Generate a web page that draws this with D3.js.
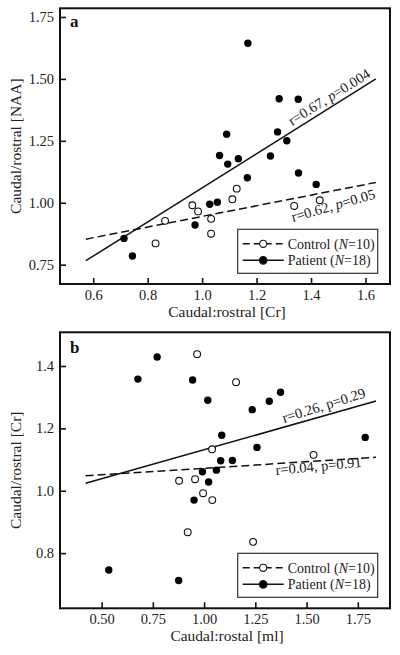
<!DOCTYPE html>
<html>
<head>
<meta charset="utf-8">
<script src="https://cdn.jsdelivr.net/npm/d3@7"></script>
<style>
  html, body { margin: 0; padding: 0; background: #fff; }
  svg { display: block; }
</style>
</head>
<body>
<svg id="chart" width="400" height="655"></svg>
<script>
// ---------- Panel a data ----------
const aPatientX = [1.168, 1.283, 1.353, 1.090, 1.277, 1.311, 1.064, 1.133, 1.251, 1.094, 1.354, 1.166, 1.419, 1.028, 1.056, 0.974, 0.713, 0.744];
const aPatientY = [1.644, 1.420, 1.418, 1.277, 1.286, 1.250, 1.191, 1.178, 1.189, 1.156, 1.120, 1.101, 1.074, 0.994, 1.002, 0.910, 0.856, 0.785];
const aControlX = [1.127, 1.111, 0.964, 0.985, 1.033, 0.864, 1.033, 0.829, 1.338, 1.432];
const aControlY = [1.057, 1.014, 0.990, 0.965, 0.935, 0.927, 0.875, 0.836, 0.987, 1.010];
const aPatientFitX = [0.573, 1.638];
const aPatientFitY = [0.766, 1.500];
const aControlFitX = [0.573, 1.638];
const aControlFitY = [0.853, 1.082];
const aXTicks = [0.6, 0.8, 1.0, 1.2, 1.4, 1.6];
const aYTicks = [0.75, 1.00, 1.25, 1.50, 1.75];

// ---------- Panel b data ----------
const bPatientX = [0.771, 0.677, 0.944, 1.018, 1.373, 1.318, 1.235, 1.086, 1.786, 1.258, 1.081, 1.138, 1.060, 0.992, 1.022, 0.951, 0.535, 0.876];
const bPatientY = [1.429, 1.358, 1.355, 1.290, 1.316, 1.287, 1.260, 1.178, 1.171, 1.139, 1.096, 1.097, 1.066, 1.061, 1.028, 0.970, 0.746, 0.712];
const bControlX = [0.966, 1.156, 1.039, 1.534, 0.878, 0.956, 0.995, 1.040, 0.920, 1.239];
const bControlY = [1.438, 1.348, 1.133, 1.115, 1.032, 1.037, 0.992, 0.970, 0.867, 0.836];
const bPatientFitX = [0.422, 1.839];
const bPatientFitY = [1.024, 1.2875];
const bControlFitX = [0.422, 1.839];
const bControlFitY = [1.048, 1.107];
const bXTicks = [0.50, 0.75, 1.00, 1.25, 1.50, 1.75];
const bYTicks = [0.8, 1.0, 1.2, 1.4];

const legendLabels = ["Control", "Patient"];
const legendN = ["10", "18"];

const FONT = '"Liberation Serif", "Times New Roman", Times, serif';
const svg = d3.select("#chart").attr("font-family", FONT);

function txt(sel) {
  return sel.style("font-family", FONT);
}

function drawPanel(cfg) {
  const g = svg.append("g");
  const x = d3.scaleLinear().domain(cfg.xDomain).range([cfg.left, cfg.right]);
  const y = d3.scaleLinear().domain(cfg.yDomain).range([cfg.bottom, cfg.top]);

  const xAxis = d3.axisBottom(x).tickValues(cfg.xTicks).tickFormat(d3.format(cfg.xFmt))
    .tickSizeInner(-6).tickSizeOuter(0).tickPadding(cfg.xPad);
  const yAxis = d3.axisLeft(y).tickValues(cfg.yTicks).tickFormat(d3.format(cfg.yFmt))
    .tickSizeInner(-6).tickSizeOuter(0).tickPadding(6);

  const gx = g.append("g").attr("transform", `translate(0,${cfg.bottom})`).call(xAxis);
  const gy = g.append("g").attr("transform", `translate(${cfg.left},0)`).call(yAxis);
  [gx, gy].forEach(a => {
    a.attr("font-family", FONT);
    a.select(".domain").remove();
    a.selectAll("line").attr("stroke", "#111").attr("stroke-width", 1.6);
    txt(a.selectAll("text")).style("font-size", "14.5px").attr("fill", "#222");
  });

  g.append("rect").attr("x", cfg.left).attr("y", cfg.top)
    .attr("width", cfg.right - cfg.left).attr("height", cfg.bottom - cfg.top)
    .attr("fill", "none").attr("stroke", "#111").attr("stroke-width", 2);

  txt(g.append("text")).attr("x", cfg.left + 10).attr("y", cfg.top + cfg.letterDy)
    .style("font-size", "17px").style("font-weight", "bold").attr("fill", "#111").text(cfg.letter);

  txt(g.append("text")).attr("x", (cfg.left + cfg.right) / 2 + 2).attr("y", cfg.xTitleY)
    .attr("text-anchor", "middle").style("font-size", "15.5px").attr("fill", "#222").text(cfg.xTitle);
  txt(g.append("text"))
    .attr("transform", `translate(21,${(cfg.top + cfg.bottom) / 2}) rotate(-90)`)
    .attr("text-anchor", "middle").style("font-size", "15.5px").attr("fill", "#222").text(cfg.yTitle);

  const line = d3.line().x(d => x(d[0])).y(d => y(d[1]));
  g.append("path").datum(d3.zip(cfg.cFitX, cfg.cFitY)).attr("d", line)
    .attr("fill", "none").attr("stroke", "#111").attr("stroke-width", 1.5).attr("stroke-dasharray", "8,4");
  g.append("path").datum(d3.zip(cfg.pFitX, cfg.pFitY)).attr("d", line)
    .attr("fill", "none").attr("stroke", "#111").attr("stroke-width", 1.5);

  g.selectAll(".ctrl").data(d3.zip(cfg.cX, cfg.cY)).join("circle")
    .attr("cx", d => x(d[0])).attr("cy", d => y(d[1])).attr("r", 3.4)
    .attr("fill", "#fff").attr("stroke", "#111").attr("stroke-width", 1.1);
  g.selectAll(".pat").data(d3.zip(cfg.pX, cfg.pY)).join("circle")
    .attr("cx", d => x(d[0])).attr("cy", d => y(d[1])).attr("r", 3.7)
    .attr("fill", "#000");

  cfg.annots.forEach(an => {
    const t = txt(g.append("text"))
      .attr("transform", `translate(${an.x},${an.y}) rotate(${an.angle})`)
      .style("font-size", "14.5px").attr("fill", "#222");
    t.append("tspan").text(`r=${an.r}, `);
    t.append("tspan").style("font-style", an.italicP ? "italic" : "normal").text("p");
    t.append("tspan").text(`=${an.p}`);
  });

  const lg = g.append("g");
  lg.append("rect").attr("x", cfg.legX).attr("y", cfg.legY).attr("width", 140).attr("height", 44)
    .attr("fill", "#fff").attr("stroke", "#333").attr("stroke-width", 1.2);
  legendLabels.forEach((lab, i) => {
    const ry = cfg.legY + 14.5 + i * 16.5;
    const l = lg.append("line").attr("x1", cfg.legX + 5).attr("x2", cfg.legX + 46)
      .attr("y1", ry).attr("y2", ry).attr("stroke", "#111").attr("stroke-width", 1.5);
    if (i === 0) l.attr("stroke-dasharray", "7,4");
    lg.append("circle").attr("cx", cfg.legX + 25.5).attr("cy", ry).attr("r", i === 0 ? 3.6 : 3.8)
      .attr("fill", i === 0 ? "#fff" : "#000").attr("stroke", "#111").attr("stroke-width", 1.1);
    const t = txt(lg.append("text")).attr("x", cfg.legX + 50).attr("y", ry + 5)
      .style("font-size", "14px").attr("fill", "#222");
    t.append("tspan").text(`${lab} (`);
    t.append("tspan").style("font-style", "italic").text("N");
    t.append("tspan").text(`=${legendN[i]})`);
  });
}

drawPanel({
  left: 60, right: 390, top: 8.3, bottom: 284,
  xDomain: [0.478, 1.690], yDomain: [0.672, 1.785],
  xTicks: aXTicks, yTicks: aYTicks, xFmt: ".1f", yFmt: ".2f", xPad: 5.5,
  letter: "a", letterDy: 18.5,
  xTitle: "Caudal:rostral [Cr]", xTitleY: 317,
  yTitle: "Caudal/rostral [NAA]",
  pX: aPatientX, pY: aPatientY, cX: aControlX, cY: aControlY,
  pFitX: aPatientFitX, pFitY: aPatientFitY, cFitX: aControlFitX, cFitY: aControlFitY,
  annots: [
    { x: 292, y: 126, angle: -32, r: "0.67", p: "0.004", italicP: true },
    { x: 293, y: 222, angle: -16, r: "0.62", p: "0.05", italicP: true }
  ],
  legX: 237.7, legY: 229.3
});

drawPanel({
  left: 60, right: 390, top: 332.3, bottom: 608.3,
  xDomain: [0.297, 1.907], yDomain: [0.623, 1.508],
  xTicks: bXTicks, yTicks: bYTicks, xFmt: ".2f", yFmt: ".1f", xPad: 5,
  letter: "b", letterDy: 21,
  xTitle: "Caudal:rostal [ml]", xTitleY: 641,
  yTitle: "Caudal/rostral [Cr]",
  pX: bPatientX, pY: bPatientY, cX: bControlX, cY: bControlY,
  pFitX: bPatientFitX, pFitY: bPatientFitY, cFitX: bControlFitX, cFitY: bControlFitY,
  annots: [
    { x: 284, y: 423, angle: -17.5, r: "0.26", p: "0.29", italicP: false },
    { x: 276, y: 475, angle: -5.5, r: "0.04", p: "0.91", italicP: false }
  ],
  legX: 237.7, legY: 553.3
});
</script>
</body>
</html>
